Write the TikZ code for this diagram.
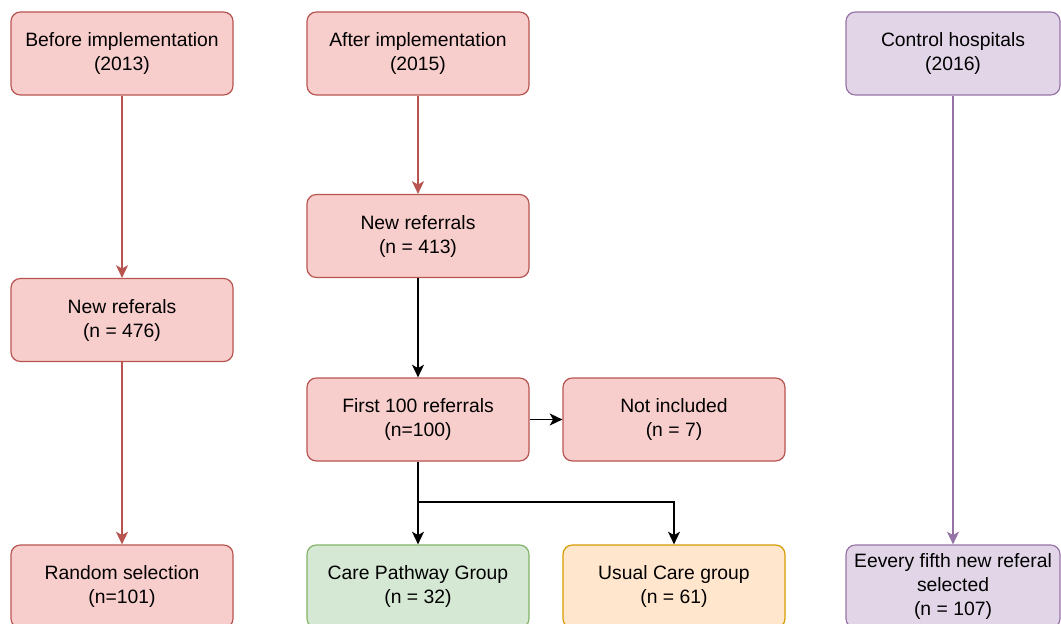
\documentclass[tikz,border=0pt]{standalone}
\usepackage{fontspec}
\setmainfont{Liberation Sans}
\usepackage{xcolor}
\usepackage{tikz}
\usetikzlibrary{arrows.meta,positioning,calc}

\definecolor{redfill}{HTML}{F8CECC}
\definecolor{redline}{HTML}{B85450}
\definecolor{greenfill}{HTML}{D5E8D4}
\definecolor{greenline}{HTML}{82B366}
\definecolor{orangefill}{HTML}{FFE6CC}
\definecolor{orangeline}{HTML}{D79B00}
\definecolor{purplefill}{HTML}{E1D5E7}
\definecolor{purpleline}{HTML}{9673A6}

\begin{document}
\begin{tikzpicture}
    [
      x = 0.75pt, y = -0.75pt,
      font = \fontsize{14.5}{18}\selectfont,
      box/.style = {rectangle, rounded corners = 7pt, line width = 0.9pt, align = center,
                    minimum width = 166.5pt, minimum height = 62.25pt, inner sep = 2pt},
      redbox/.style = {box, draw = redline, fill = redfill},
      greenbox/.style = {box, draw = greenline, fill = greenfill},
      orangebox/.style = {box, draw = orangeline, fill = orangefill},
      purplebox/.style = {box, draw = purpleline, fill = purplefill, minimum width = 160.5pt},
      flow/.style = {line width = 1.2pt, -{Triangle[length = 9.5pt, width = 9pt, inset = 2.5pt]}},
    ]

    \useasboundingbox (0,0) rectangle (1061,624);
    \clip (0,0) rectangle (1061,624);

    % top row
    \node[redbox] (before) at (122,53.5) {Before implementation\\(2013)};
    \node[redbox] (after) at (418,53.5) {After implementation\\(2015)};
    \node[purplebox] (control) at (953,53.5) {Control hospitals\\(2016)};

    % middle
    \node[redbox] (newafter) at (418,236) {New referrals\\(n = 413)};
    \node[redbox] (newbefore) at (122,320) {New referals\\(n = 476)};
    \node[redbox] (first) at (418,419.5) {First 100 referrals\\(n=100)};
    \node[redbox] (notinc) at (674,419.5) {Not included\\(n = 7)};

    % bottom row
    \node[redbox] (random) at (122,586.5) {Random selection\\(n=101)};
    \node[greenbox] (care) at (418,586.5) {Care Pathway Group\\(n = 32)};
    \node[orangebox] (usual) at (674,586.5) {Usual Care group\\(n = 61)};
    \node[purplebox] (every) at (953,586.5) {Eevery fifth new referal\\selected\\(n = 107)};

    \coordinate (split) at (418,502);

    \draw[flow, redline] (before) -- (newbefore);
    \draw[flow, redline] (newbefore) -- (random);
    \draw[flow, redline] (after) -- (newafter);
    \draw[flow, purpleline] (control) -- (every);
    \draw[flow] (newafter) -- (first);
    \draw[flow] (first) -- (notinc);
    \draw[flow] (first) -- (care);
    \draw[flow] (split) -| (usual);
  \end{tikzpicture}
\end{document}
